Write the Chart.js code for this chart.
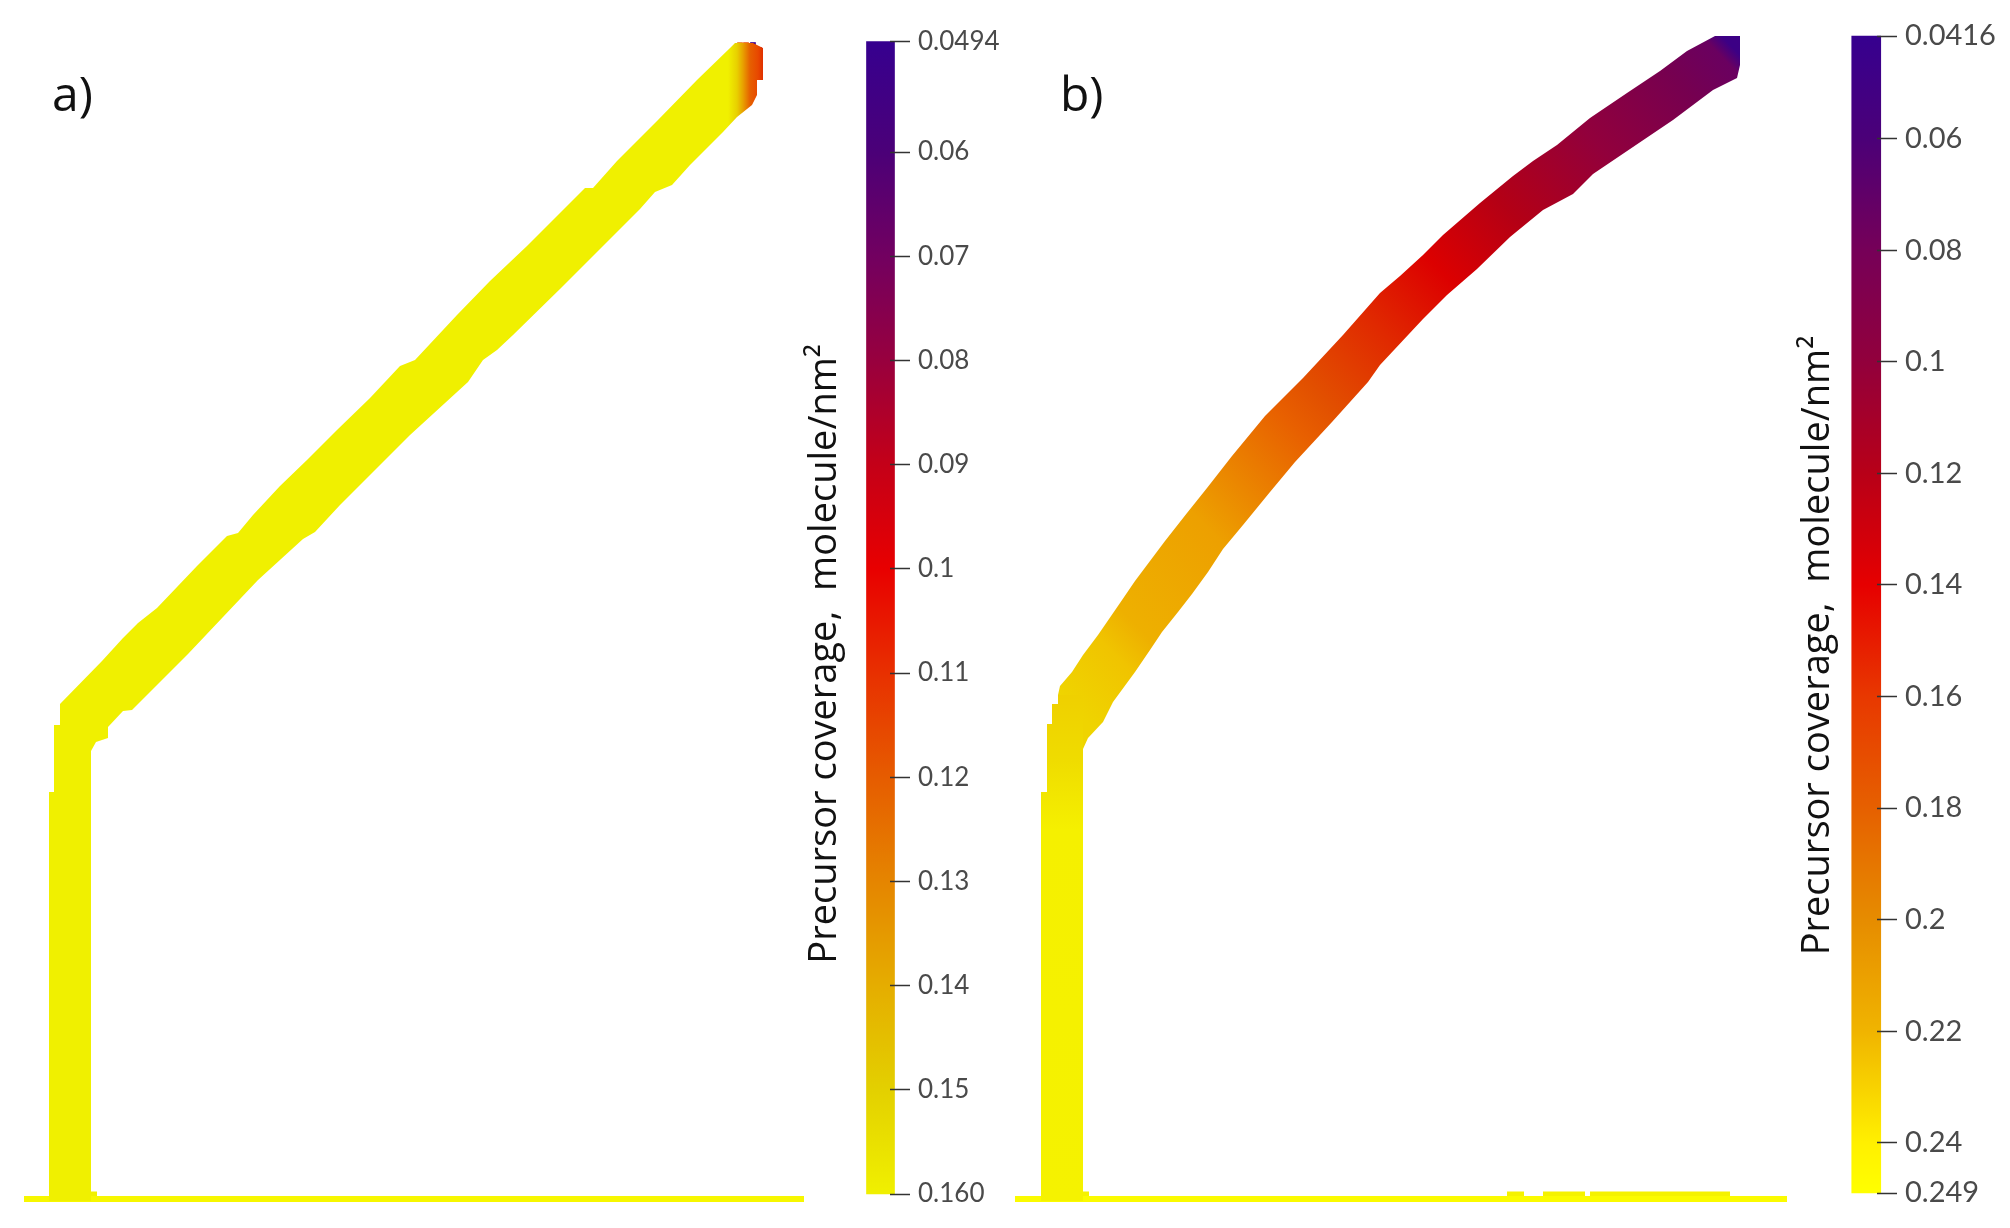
<!DOCTYPE html>
<html>
<head>
<meta charset="utf-8">
<title>Precursor coverage</title>
<script src="https://cdn.jsdelivr.net/npm/chart.js@4/dist/chart.umd.js"></script>
<style>
    html, body { margin: 0; padding: 0; background: #fff; }
    #page { position: relative; width: 2010px; height: 1228px; overflow: hidden; filter: blur(0.5px); }
    #page canvas { position: absolute; top: 0; }
    .panel-label { position: absolute; top: 60px; font: 48px "Open Sans", sans-serif; color: #111; }
</style>
</head>
<body>
<div id="page">
    <canvas id="shapeA" width="830" height="1228" style="left:0"></canvas>
    <canvas id="shapeB" width="1000" height="1228" style="left:1000px"></canvas>
    <canvas id="barA" width="265" height="1228" style="left:795px"></canvas>
    <canvas id="barB" width="223" height="1228" style="left:1787px"></canvas>
    <div class="panel-label" style="left:52px">a)</div>
    <div class="panel-label" style="left:1060px">b)</div>
</div>
<script>
const titleText = 'Precursor coverage,  molecule/nm\u00B2';

// colour bars: tick labels, and the colour at each tick
const ticksA = ['0.0494', '0.06', '0.07', '0.08', '0.09', '0.1', '0.11', '0.12', '0.13', '0.14', '0.15', '0.160'];
const coloursA = ['#36008f', '#4b0078', '#720060', '#98003e', '#c40018', '#e80000', '#e83000', '#e65c00', '#e58500', '#e5ad00', '#e3d000', '#f0f000'];
const ticksB = ['0.0416', '0.06', '0.08', '0.1', '0.12', '0.14', '0.16', '0.18', '0.2', '0.22', '0.24', '0.249'];
const coloursB = ['#36008f', '#4b0078', '#760058', '#92003c', '#b80018', '#e60000', '#e83800', '#e66000', '#e68c00', '#f0b400', '#fff000', '#ffff00'];

// panel a) outline
const aShaftTopX = [49, 54, 54, 60, 60, 91];
const aShaftTopY = [792, 792, 725, 725, 704, 704];
const aShaftBottomX = [49, 91];
const aShaftBottomY = [1201, 1201];
const aUpperX = [60, 102, 123, 138, 157, 197, 227, 238, 253, 280, 307, 337, 370, 400, 415, 457, 490, 527, 563, 585, 593, 617, 657, 697, 730, 735, 753, 763];
const aUpperY = [704, 661, 638, 623, 608, 566, 536, 533, 515, 486, 460, 430, 398, 366, 360, 315, 281, 246, 210, 188, 188, 161, 121, 80, 48, 43, 43, 48];
const aLowerX = [60, 91, 96, 108, 108, 123, 132, 150, 188, 223, 258, 303, 315, 340, 380, 410, 468, 483, 497, 513, 560, 600, 640, 655, 672, 690, 723, 737, 752, 757, 757, 763];
const aLowerY = [751, 751, 742, 738, 727, 711, 710, 692, 654, 617, 580, 539, 532, 505, 465, 435, 382, 360, 350, 335, 289, 249, 209, 192, 185, 165, 132, 117, 105, 95, 80, 80];
const aBandStopX = [60, 728, 737, 743, 750, 758, 763];
const aBandStopColours = ['#f0f000', '#f0f000', '#e8d000', '#e8a000', '#e66000', '#e84800', '#e03000'];
// the few dark cells at the very end of the band
const aTipX = [740, 746, 753, 755, 759, 760, 760, 760, 760, 759];
const aTipY = [45, 45, 45, 50, 50, 51, 56, 62, 68, 75];
const aTipColours = ['#f08020', '#ee6020', '#3a0090', '#e00010', '#c00030', '#d00020', '#e01000', '#e82000', '#d00010', '#a00040'];
const aBaseX = [24, 804];
const aBaseY = [1199, 1199];
const aFootX = [91, 97];
const aFootY = [1194, 1194];

// panel b) outline
const bShaftTopX = [1041, 1047, 1047, 1052, 1052, 1058, 1058, 1083];
const bShaftTopY = [792, 792, 724, 724, 704, 704, 695, 695];
const bShaftBottomX = [1041, 1083];
const bShaftBottomY = [1201, 1201];
const bShaftStopY = [1201, 830, 760, 695];
const bShaftStopColours = ['#f5f200', '#f5f000', '#efdc00', '#efd000'];
const bUpperX = [1058, 1060, 1072, 1083, 1098, 1120, 1135, 1150, 1165, 1187, 1207, 1232, 1265, 1283, 1303, 1343, 1380, 1400, 1423, 1443, 1480, 1513, 1533, 1557, 1590, 1627, 1660, 1687, 1715, 1740];
const bUpperY = [695, 686, 672, 655, 635, 603, 581, 561, 541, 513, 488, 456, 416, 398, 378, 335, 293, 276, 255, 235, 203, 176, 161, 145, 118, 93, 71, 51, 36, 36];
const bLowerX = [1058, 1083, 1088, 1103, 1113, 1135, 1150, 1162, 1178, 1192, 1208, 1223, 1243, 1270, 1295, 1332, 1368, 1380, 1423, 1447, 1477, 1510, 1543, 1573, 1593, 1633, 1673, 1713, 1737, 1740];
const bLowerY = [749, 749, 738, 722, 702, 672, 650, 632, 612, 594, 572, 549, 525, 492, 462, 422, 382, 365, 319, 295, 269, 237, 210, 194, 174, 147, 120, 90, 78, 65];
// colours read along the middle of the band
const bBandStopX = [1065, 1100, 1140, 1200, 1290, 1320, 1383, 1440, 1507, 1600, 1683, 1717, 1735];
const bBandStopY = [700, 640, 630, 520, 423, 397, 330, 270, 210, 147, 87, 52, 50];
const bBandStopColours = ['#efd400', '#f0c400', '#eeb000', '#eda000', '#e86000', '#e25000', '#e02800', '#dc0000', '#b40015', '#92003c', '#760050', '#6a0060', '#3c0085'];
const bBaseX = [1015, 1787];
const bBaseY = [1199, 1199];
const bFootX = [1083, 1089, null, 1507, 1524, null, 1543, 1585, null, 1590, 1730];
const bFootY = [1194, 1194, null, 1194, 1194, null, 1194, 1194, null, 1194, 1194];

function pts(xs, ys) {
    return xs.map((x, i) => ({ x: x, y: ys[i] }));
}

// fill between two edges; the colour comes from fillFn once the scales exist
function edgePair(upper, lower, fillFn) {
    return [
        { data: upper, borderWidth: 0, pointRadius: 0, fill: '+1', backgroundColor: fillFn },
        { data: lower, borderWidth: 0, pointRadius: 0, fill: false }
    ];
}

function solid(colour) {
    return () => colour;
}

// gradient from stop points, positioned on the direction of the band
function bandFill(stopX, stopY, colours) {
    return function (context) {
        if (!context.chart.chartArea) return 'transparent';
        const { x, y } = context.chart.scales;
        const px = stopX.map(v => x.getPixelForValue(v));
        const py = stopY.map(v => y.getPixelForValue(v));
        const n = px.length - 1;
        const dx = px[n] - px[0], dy = py[n] - py[0];
        const len2 = dx * dx + dy * dy;
        const g = context.chart.ctx.createLinearGradient(px[0], py[0], px[n], py[n]);
        px.forEach((p, i) => {
            const t = ((p - px[0]) * dx + (py[i] - py[0]) * dy) / len2;
            g.addColorStop(Math.min(1, Math.max(0, t)), colours[i]);
        });
        return g;
    };
}

function shapeChart(id, xMin, xMax, datasets) {
    return new Chart(document.getElementById(id), {
        type: 'line',
        data: { datasets: datasets },
        options: {
            responsive: false,
            animation: false,
            clip: false,
            layout: { padding: 0, autoPadding: false },
            plugins: { legend: { display: false }, tooltip: { enabled: false } },
            elements: { line: { tension: 0 } },
            scales: {
                x: { type: 'linear', display: false, min: xMin, max: xMax },
                y: { type: 'linear', display: false, min: 0, max: 1228, reverse: true }
            }
        }
    });
}

function colourBar(id, labels, colours, opts) {
    const values = labels.map(Number);
    const lo = values[0], hi = values[values.length - 1];
    return new Chart(document.getElementById(id), {
        type: 'bar',
        data: {
            datasets: [{
                data: [{ x: opts.barX, y: [lo, hi] }],
                barThickness: opts.barWidth,
                clip: false,
                backgroundColor: function (context) {
                    if (!context.chart.chartArea) return 'transparent';
                    const y = context.chart.scales.y;
                    const top = y.getPixelForValue(lo), bottom = y.getPixelForValue(hi);
                    const g = context.chart.ctx.createLinearGradient(0, top, 0, bottom);
                    values.forEach((v, i) => g.addColorStop((y.getPixelForValue(v) - top) / (bottom - top), colours[i]));
                    return g;
                }
            }]
        },
        // the title sits a little below the middle of the bar, so slide its axis down
        plugins: [{
            id: 'titleShift',
            afterLayout: chart => {
                chart.scales.side.top += opts.titleShift;
                chart.scales.side.bottom += opts.titleShift;
            }
        }],
        options: {
            responsive: false,
            animation: false,
            layout: { padding: { top: opts.top, bottom: 1228 - opts.bottom, left: 0, right: 0 } },
            plugins: { legend: { display: false }, tooltip: { enabled: false } },
            scales: {
                x: { type: 'linear', display: false, min: 0, max: opts.areaWidth },
                y: {
                    position: 'right',
                    min: lo,
                    max: hi,
                    reverse: true,
                    afterBuildTicks: scale => { scale.ticks = values.map(v => ({ value: v })); },
                    afterFit: scale => { scale.width = opts.rightWidth; },
                    border: { display: false },
                    grid: { z: 1, drawOnChartArea: false, tickLength: 20, tickColor: '#333', tickWidth: 1.5 },
                    ticks: {
                        autoSkip: false,
                        padding: 8,
                        color: '#4a4a4a',
                        font: { family: 'Lato', size: opts.tickSize },
                        callback: (v, i) => labels[i]
                    }
                },
                side: {
                    position: 'left',
                    afterFit: scale => { scale.width = opts.leftWidth; },
                    border: { display: false },
                    grid: { display: false },
                    ticks: { display: false },
                    title: {
                        display: true,
                        text: titleText,
                        color: '#111',
                        padding: { top: opts.titlePad, bottom: 0 },
                        font: { family: 'Open Sans', size: 38 }
                    }
                }
            }
        }
    });
}

shapeChart('shapeA', 0, 830, [
    ...edgePair(pts(aShaftTopX, aShaftTopY), pts(aShaftBottomX, aShaftBottomY), solid('#f0f000')),
    ...edgePair(pts(aUpperX, aUpperY), pts(aLowerX, aLowerY), bandFill(aBandStopX, aBandStopX.map(() => 0), aBandStopColours)),
    { data: pts(aBaseX, aBaseY), borderColor: '#f7f700', borderWidth: 6, pointRadius: 0, fill: false },
    { data: pts(aFootX, aFootY), borderColor: '#f0f000', borderWidth: 5, pointRadius: 0, fill: false },
    { data: pts(aTipX, aTipY), showLine: false, pointStyle: 'rect', pointRadius: 4, pointBorderWidth: 0, pointBackgroundColor: aTipColours, fill: false }
]);

shapeChart('shapeB', 1000, 2000, [
    ...edgePair(pts(bShaftTopX, bShaftTopY), pts(bShaftBottomX, bShaftBottomY), bandFill(bShaftStopY.map(() => 1060), bShaftStopY, bShaftStopColours)),
    ...edgePair(pts(bUpperX, bUpperY), pts(bLowerX, bLowerY), bandFill(bBandStopX, bBandStopY, bBandStopColours)),
    { data: pts(bBaseX, bBaseY), borderColor: '#fbfb00', borderWidth: 6, pointRadius: 0, fill: false },
    { data: pts(bFootX, bFootY), borderColor: '#f5f200', borderWidth: 5, pointRadius: 0, fill: false }
]);

colourBar('barA', ticksA, coloursA, { top: 41.6, bottom: 1194, barX: 14, barWidth: 28, areaWidth: 22, leftWidth: 73, rightWidth: 170, tickSize: 26, titleShift: 36, titlePad: 7 });
colourBar('barB', ticksB, coloursB, { top: 36, bottom: 1193, barX: 14.5, barWidth: 29, areaWidth: 24, leftWidth: 66, rightWidth: 133, tickSize: 29, titleShift: 31, titlePad: 8 });
</script>
</body>
</html>
